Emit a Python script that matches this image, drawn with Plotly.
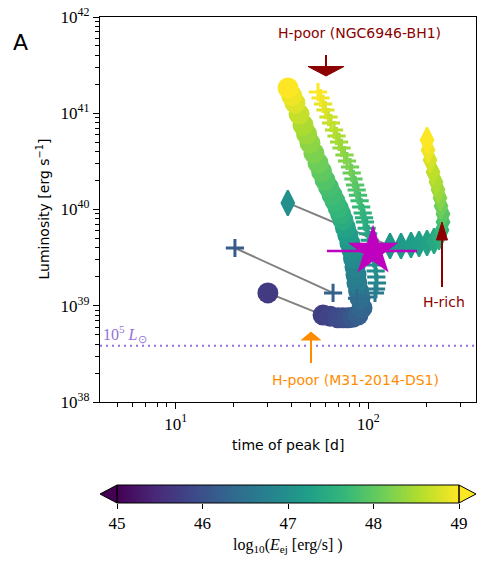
import numpy as np
import plotly.graph_objects as go

# ---------------- data ----------------
# circle track (ordered by increasing log10 E_ej)
circ_t = [30.1, 58.2, 63.3, 69.6, 73.8, 78.3, 83.0, 88.4, 92.7, 90.5, 89.0, 87.3, 86.3, 85.3, 83.8, 82.2,
          80.2, 78.3, 76.0, 73.8, 71.8, 69.7, 67.2, 64.8, 62.2, 59.6, 57.2, 54.8, 52.2, 49.8, 47.8, 45.8,
          43.7, 41.6, 40.0, 38.3]
circ_L = [1.36e39, 8.0e38, 7.8e38, 7.5e38, 7.5e38, 7.5e38, 7.6e38, 8.0e38, 9.5e38, 1.20e39, 1.43e39,
          1.72e39, 2.1e39, 2.53e39, 3.1e39, 3.8e39, 4.5e39, 5.4e39, 6.5e39, 7.8e39, 9.0e39, 1.04e40,
          1.22e40, 1.42e40, 1.70e40, 2.02e40, 2.48e40, 3.04e40, 3.85e40, 4.9e40, 6.1e40, 7.55e40,
          9.8e40, 1.28e41, 1.52e41, 1.83e41]
circ_E = [45.7, 45.75, 45.82, 45.9, 45.95, 46.0, 46.1, 46.2, 46.3, 46.45, 46.55, 46.65, 46.72, 46.8,
          46.9, 47.0, 47.1, 47.2, 47.3, 47.45, 47.55, 47.65, 47.7, 47.75, 47.8, 47.9, 48.0, 48.1, 48.2,
          48.3, 48.4, 48.5, 48.65, 48.8, 48.9, 49.0]

# plus track
plus_t = [20.3, 65.6, 87.4, 98.5, 108.3, 109.6, 110.9, 110.0, 109.2, 108.3, 106.5, 104.8, 103.3, 101.7,
          99.8, 98.0, 96.1, 95.0, 93.5, 91.8, 90.1, 88.4, 87.0, 85.4, 83.7, 82.0, 80.4, 77.5, 75.2, 72.6,
          70.5, 68.4, 66.4, 64.0, 62.1, 59.9, 58.2, 56.5, 54.8]
plus_L = [3.98e39, 1.36e39, 1.20e39, 1.23e39, 1.36e39, 1.49e39, 1.72e39, 1.99e39, 2.30e39, 2.65e39,
          3.1e39, 3.7e39, 4.3e39, 4.8e39, 5.6e39, 6.4e39, 7.4e39, 8.2e39, 9.2e39, 1.06e40, 1.23e40,
          1.41e40, 1.59e40, 1.80e40, 2.07e40, 2.39e40, 2.76e40, 3.19e40, 3.68e40, 4.36e40, 5.03e40,
          5.80e40, 6.70e40, 7.92e40, 9.14e40, 1.08e41, 1.25e41, 1.44e41, 1.66e41]
plus_E = [46.15, 46.25, 46.35, 46.45, 46.6, 46.7, 46.8, 46.87, 46.93, 47.0, 47.04, 47.11, 47.17, 47.23,
          47.3, 47.38, 47.45, 47.5, 47.58, 47.66, 47.73, 47.8, 47.87, 47.93, 48.0, 48.08, 48.15, 48.21,
          48.28, 48.36, 48.42, 48.49, 48.56, 48.63, 48.7, 48.79, 48.86, 48.93, 49.0]

# diamond track
dia_t = [38.2, 129.6, 147.8, 166.6, 183.4, 201.7, 219.4, 232.8, 241.4, 244.3, 244.3, 238.5, 235.7,
         230.1, 224.6, 216.7, 209.2, 204.2, 201.8]
dia_L = [1.17e40, 4.18e39, 4.18e39, 4.28e39, 4.38e39, 4.49e39, 4.71e39, 5.18e39, 6.12e39, 7.41e39,
         8.98e39, 1.09e40, 1.32e40, 1.60e40, 1.93e40, 2.45e40, 3.27e40, 4.15e40, 5.27e40]
dia_E = [47.0, 47.1, 47.15, 47.2, 47.25, 47.3, 47.4, 47.5, 47.65, 47.8, 47.95, 48.1, 48.25, 48.4, 48.5,
         48.6, 48.75, 48.9, 49.0]

# observed transient (star with error bar in time)
star_t = [105.8]
star_L = [3.7e39]
star_t_err_plus = [73.2]
star_t_err_minus = [44.8]

L_1e5_sun = 3.83e38

E_min, E_max = 45, 49
cbar_ticks = [45, 46, 47, 48, 49]

x_major = [10, 100]
x_major_text = ["10<sup>1</sup>", "10<sup>2</sup>"]
y_major = [1e38, 1e39, 1e40, 1e41, 1e42]
y_major_text = ["10<sup>38</sup>", "10<sup>39</sup>", "10<sup>40</sup>", "10<sup>41</sup>", "10<sup>42</sup>"]
x_minor = [k * 10 ** n for n in (0, 1, 2) for k in range(2, 10) if 4 <= k * 10 ** n <= 360]
y_minor = [k * 10.0 ** n for n in (38, 39, 40, 41) for k in range(2, 10)]

# ---------------- figure geometry (pixels of the 488x567 canvas) ----------------
W, H = 488, 567
AX_L, AX_R, AX_T, AX_B = 100, 476, 17, 402
CB_L, CB_R, CB_T, CB_B, CB_TIP_L, CB_TIP_R = 117, 459, 485, 503, 100, 476


def px(xp):
    return xp / W


def py(yp):
    return (H - yp) / H


SERIF = "Liberation Serif"
SANS = "DejaVu Sans"
GREY = "#808080"
DARKRED = "#8b0000"
ORANGE = "#ff8c00"
MAGENTA = "#bf00bf"
PURPLE = "#9370db"

fig = go.Figure()

# grey connectors between the lowest-energy model and the rest of each track
for tt, LL in ((circ_t, circ_L), (plus_t, plus_L), (dia_t, dia_L)):
    fig.add_trace(go.Scatter(x=tt[:2], y=LL[:2], mode="lines",
                             line=dict(color=GREY, width=2), hoverinfo="skip", showlegend=False))

fig.add_trace(go.Scatter(
    x=circ_t, y=circ_L, mode="markers", showlegend=False,
    marker=dict(symbol="circle", size=21, color=circ_E, colorscale="Viridis", cmin=E_min, cmax=E_max,
                line=dict(width=0), showscale=False)))

fig.add_trace(go.Scatter(
    x=plus_t, y=plus_L, mode="markers", showlegend=False,
    marker=dict(symbol="cross-thin", size=13, color=plus_E, colorscale="Viridis", cmin=E_min, cmax=E_max,
                line=dict(width=3, color=plus_E, colorscale="Viridis", cmin=E_min, cmax=E_max))))

fig.add_trace(go.Scatter(
    x=dia_t, y=dia_L, mode="markers", showlegend=False,
    marker=dict(symbol="diamond-tall", size=18, color=dia_E, colorscale="Viridis", cmin=E_min, cmax=E_max,
                line=dict(width=2, color=dia_E, colorscale="Viridis", cmin=E_min, cmax=E_max))))

fig.add_trace(go.Scatter(
    x=star_t, y=star_L, mode="markers", showlegend=False,
    marker=dict(symbol="star", size=38, color=MAGENTA, line=dict(width=0)),
    error_x=dict(type="data", symmetric=False, array=star_t_err_plus, arrayminus=star_t_err_minus,
                 color=MAGENTA, thickness=2.5, width=0)))

# colour bar drawn as a heatmap strip on its own axes
cb_vals = np.linspace(E_min, E_max, 401)
fig.add_trace(go.Heatmap(x=cb_vals, y=[0], z=[cb_vals], colorscale="Viridis", zmin=E_min, zmax=E_max,
                         showscale=False, hoverinfo="skip", xaxis="x2", yaxis="y2"))

shapes = [
    # 1e5 Lsun dotted line
    dict(type="line", xref="x domain", x0=0, x1=1, yref="y", y0=L_1e5_sun, y1=L_1e5_sun,
         line=dict(color=PURPLE, width=2, dash="2px,4px")),
]


def arrow(x, y_tail, y_head_base, y_tip, half, color):
    out = [dict(type="line", xref="paper", yref="paper", x0=px(x), x1=px(x), y0=py(y_tail), y1=py(y_head_base),
                line=dict(color=color, width=2))]
    path = "M {a},{b} L {c},{d} L {e},{f} Z".format(a=px(x - half), b=py(y_head_base), c=px(x + half),
                                                    d=py(y_head_base), e=px(x), f=py(y_tip))
    out.append(dict(type="path", xref="paper", yref="paper", path=path, fillcolor=color,
                    line=dict(color=color, width=1)))
    return out


shapes += arrow(326, 55, 66.5, 76, 18, DARKRED)
shapes += arrow(442, 287, 240, 222, 5.5, DARKRED)
shapes += arrow(311, 363, 340, 332, 9.5, ORANGE)

# colorbar extension triangles and outline
CB_M = (CB_T + CB_B) / 2
shapes.append(dict(type="path", xref="paper", yref="paper",
                   path="M {},{} L {},{} L {},{} Z".format(px(CB_L), py(CB_T), px(CB_TIP_L), py(CB_M), px(CB_L), py(CB_B)),
                   fillcolor="#440154", line=dict(color="black", width=1)))
shapes.append(dict(type="path", xref="paper", yref="paper",
                   path="M {},{} L {},{} L {},{} Z".format(px(CB_R), py(CB_T), px(CB_TIP_R), py(CB_M), px(CB_R), py(CB_B)),
                   fillcolor="#fde725", line=dict(color="black", width=1)))
shapes.append(dict(type="rect", xref="paper", yref="paper", x0=px(CB_L), x1=px(CB_R), y0=py(CB_B), y1=py(CB_T),
                   line=dict(color="black", width=1), fillcolor="rgba(0,0,0,0)"))


def note(text, x, y, size, color, family=SANS, xanchor="center", angle=0):
    return dict(text=text, xref="paper", yref="paper", x=px(x), y=py(y), xanchor=xanchor, yanchor="middle",
                textangle=angle, showarrow=False, font=dict(family=family, size=size, color=color))


annotations = [
    note("A", 20, 42, 22, "black"),
    note("H-poor (NGC6946-BH1)", 359, 33, 14, DARKRED),
    note("H-rich", 444, 302, 14, DARKRED),
    note("H-poor (M31-2014-DS1)", 355, 380, 14, ORANGE),
    note("10<sup>5</sup> <i>L</i><sub>⊙</sub>", 101, 334, 16, PURPLE, family=SERIF, xanchor="left"),
    note("time of peak [d]", (AX_L + AX_R) / 2, 445, 14, "black"),
    note("Luminosity [erg s<sup>−1</sup>]", 43, (AX_T + AX_B) / 2, 14, "black", angle=-90),
    note("log<sub>10</sub>(<i>E</i><sub>ej</sub> [erg/s] )", (CB_L + CB_R) / 2, 545, 16, "black", family=SERIF),
]

axis_common = dict(type="log", showgrid=False, zeroline=False, showline=True, linecolor="black",
                   linewidth=1.2, mirror=True, ticks="outside", ticklen=6, tickwidth=1.2, tickcolor="black",
                   tickfont=dict(family=SERIF, size=17, color="black"), tickmode="array", automargin=False)

fig.update_layout(
    template="none",
    width=W, height=H, margin=dict(l=0, r=0, t=0, b=0, autoexpand=False),
    paper_bgcolor="white", plot_bgcolor="white",
    xaxis=dict(**axis_common, range=[0.607, 2.559], tickvals=x_major, ticktext=x_major_text,
               domain=[px(AX_L), px(AX_R)], anchor="y",
               minor=dict(ticks="outside", ticklen=3.5, tickwidth=1, tickcolor="black", tickmode="array",
                          tickvals=x_minor, showgrid=False)),
    yaxis=dict(**axis_common, range=[38, 42], tickvals=y_major, ticktext=y_major_text,
               domain=[py(AX_B), py(AX_T)], anchor="x",
               minor=dict(ticks="outside", ticklen=3.5, tickwidth=1, tickcolor="black", tickmode="array",
                          tickvals=y_minor, showgrid=False)),
    xaxis2=dict(domain=[px(CB_L), px(CB_R)], anchor="y2", range=[E_min, E_max], tickmode="array",
                tickvals=cbar_ticks, ticks="outside", ticklen=5, tickwidth=1, tickcolor="black",
                showgrid=False, zeroline=False, showline=False, automargin=False,
                tickfont=dict(family=SERIF, size=17, color="black")),
    yaxis2=dict(domain=[py(CB_B), py(CB_T)], anchor="x2", range=[-0.5, 0.5], showticklabels=False,
                ticks="", showgrid=False, zeroline=False, showline=False, automargin=False),
    shapes=shapes, annotations=annotations, showlegend=False,
)

fig.write_html("out.html", config={"displayModeBar": False},
               post_script="document.body.style.margin='0px';document.body.style.padding='0px';")
